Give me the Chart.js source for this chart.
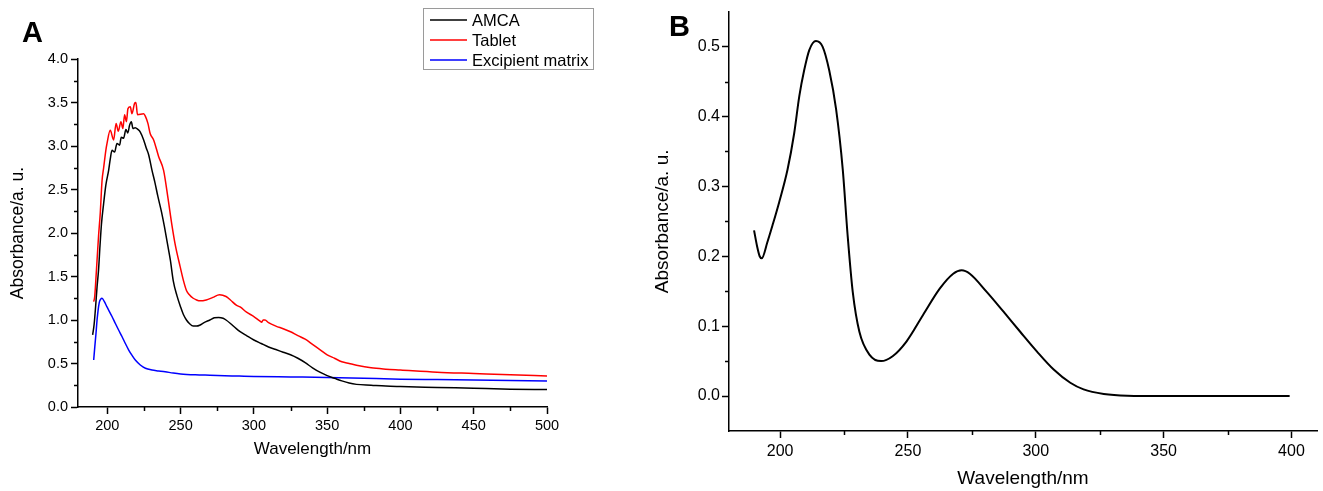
<!DOCTYPE html>
<html>
<head>
<meta charset="utf-8">
<title>UV spectra – AMCA</title>
<script src="https://cdn.jsdelivr.net/npm/chart.js@4.4.1/dist/chart.umd.min.js"></script>
<style>
  html, body { margin: 0; padding: 0; background: #fff; }
  #wrap { position: relative; width: 1323px; height: 491px; }
  #chartA { position: absolute; left: 0; top: 0; }
  #chartB { position: absolute; left: 640px; top: 0; }
</style>
</head>
<body>
<div id="wrap">
  <canvas id="chartA" width="640" height="491"></canvas>
  <canvas id="chartB" width="683" height="491"></canvas>
</div>
<script>
// ---------- panel A : AMCA, tablet, excipient matrix ----------
const SERIES_A = ['AMCA', 'Tablet', 'Excipient matrix'];
const COLORS_A = ['#000000', '#ff0000', '#0000ff'];

const AMCA_NM = [190, 191, 192, 193, 194, 195, 196, 197.5, 199, 200.9, 202, 203.2, 205, 206.6, 208.4, 209.5, 211.1, 212.7, 214, 215.2,
  216.4, 217.5, 219, 220.9, 222.5, 224.8, 226.5, 228.2, 230.5, 232.5, 234.5, 237, 239, 241, 243, 245, 247.5, 250, 252, 254,
  256, 258.6, 261, 263, 266, 270, 273, 276, 279, 281, 284, 288, 290.6, 295, 300, 305, 310, 315, 320, 325,
  330, 335, 340, 345, 350, 355, 360, 365, 370, 380, 390, 400, 425, 450, 475, 500];
const AMCA_ABS = [0.83, 0.95, 1.15, 1.38, 1.57, 1.85, 2.1, 2.34, 2.55, 2.72, 2.85, 2.95, 2.93, 3.03, 3.01, 3.1, 3.09, 3.19, 3.15, 3.24,
  3.28, 3.2, 3.21, 3.19, 3.16, 3.07, 2.98, 2.9, 2.72, 2.58, 2.42, 2.24, 2.07, 1.88, 1.69, 1.45, 1.28, 1.15, 1.06, 1.0,
  0.96, 0.93, 0.93, 0.94, 0.97, 1.0, 1.025, 1.03, 1.02, 1.0, 0.96, 0.9, 0.866, 0.82, 0.77, 0.73, 0.69, 0.66, 0.63, 0.6,
  0.56, 0.51, 0.45, 0.4, 0.36, 0.33, 0.3, 0.275, 0.26, 0.25, 0.24, 0.235, 0.225, 0.215, 0.205, 0.2];

const TABLET_NM = [190.7, 191.4, 192.5, 194, 195.2, 196.4, 197.5, 199, 199.8, 202, 204.3, 206, 207.5, 209.3, 210.6, 211.8, 213, 214.1, 215.7, 216.8,
  218.6, 219.5, 220.6, 224.8, 226, 227.7, 229.3, 231.6, 235, 238.4, 241.4, 244, 246.4, 249.6, 252, 254, 256, 258.6, 261, 263,
  267.5, 272, 276.6, 281, 284, 288, 290.6, 295, 300, 304, 305.4, 306.3, 307.6, 310, 315, 320, 325, 330, 335, 340,
  345, 350, 355, 360, 365, 370, 380, 390, 400, 425, 450, 475, 500];
const TABLET_ABS = [1.21, 1.27, 1.55, 1.96, 2.23, 2.6, 2.75, 2.95, 3.03, 3.18, 3.07, 3.26, 3.17, 3.28, 3.2, 3.36, 3.28, 3.43, 3.45, 3.37,
  3.49, 3.5, 3.36, 3.37, 3.34, 3.26, 3.14, 3.07, 2.88, 2.72, 2.4, 2.1, 1.86, 1.62, 1.45, 1.34, 1.29, 1.25, 1.23, 1.22,
  1.23, 1.26, 1.29, 1.27, 1.23, 1.17, 1.15, 1.09, 1.04, 0.99, 0.975, 1.0, 1.0, 0.97, 0.93, 0.9, 0.865, 0.82, 0.78, 0.72,
  0.66, 0.6, 0.56, 0.52, 0.5, 0.48, 0.45, 0.435, 0.425, 0.4, 0.385, 0.37, 0.356];

const EXCIP_NM = [190.7, 191.5, 192.3, 193, 194.5, 195.5, 196.4, 198, 199.8, 203.2, 205.5, 207.7, 210, 212.3, 214.6, 217, 219.1, 222.5, 226, 230.5,
  235, 239.5, 245, 250, 260, 270, 280, 290, 300, 325, 350, 375, 400, 425, 450, 475, 500];
const EXCIP_ABS = [0.54, 0.7, 0.85, 1.0, 1.2, 1.24, 1.25, 1.21, 1.15, 1.04, 0.96, 0.885, 0.81, 0.73, 0.655, 0.59, 0.54, 0.483, 0.445, 0.425,
  0.415, 0.405, 0.39, 0.38, 0.37, 0.365, 0.36, 0.355, 0.35, 0.345, 0.34, 0.33, 0.32, 0.315, 0.31, 0.305, 0.3];

const A_X_TICKS = [200, 250, 300, 350, 400, 450, 500];
const A_X_MINOR = [225, 275, 325, 375, 425, 475];
const A_Y_TICKS = [0, 0.5, 1, 1.5, 2, 2.5, 3, 3.5, 4];
const A_Y_MINOR = [0.25, 0.75, 1.25, 1.75, 2.25, 2.75, 3.25, 3.75];

// ---------- panel B : AMCA standard ----------
const B_NM = [189.8, 191, 192, 192.8, 195, 197, 199.6, 202.9, 205.5, 207.5, 209.4, 211.4, 214, 216.6, 219.2, 221.9, 224.5, 226.4, 228.4, 231,
  235, 239.5, 244, 249.4, 255.9, 262.5, 267.7, 271, 274.2, 280.8, 287.3, 293.9, 300.4, 307, 313.5, 318.7, 326.6, 335.8, 350, 375, 399.3];
const B_ABS = [0.237, 0.214, 0.2, 0.197, 0.22, 0.244, 0.277, 0.324, 0.376, 0.429, 0.466, 0.495, 0.508, 0.5, 0.466, 0.41, 0.324, 0.23, 0.149, 0.092,
  0.059, 0.05, 0.057, 0.078, 0.116, 0.154, 0.175, 0.18, 0.175, 0.149, 0.121, 0.092, 0.064, 0.038, 0.019, 0.0095, 0.003, 0.0005, 0, 0, 0];

const B_X_TICKS = [200, 250, 300, 350, 400];
const B_X_MINOR = [225, 275, 325, 375];
const B_Y_TICKS = [0, 0.1, 0.2, 0.3, 0.4, 0.5];
const B_Y_MINOR = [0.05, 0.15, 0.25, 0.35, 0.45];

const FONT = '"Liberation Sans", Arial, Helvetica, sans-serif';

function pts(xs, ys) {
  return xs.map((x, i) => ({ x: x, y: ys[i] }));
}

// short outward minor ticks, placed with the chart's own scales
const minorTicks = {
  id: 'minorTicks',
  afterDraw(chart, args, opts) {
    const { ctx, chartArea, scales } = chart;
    ctx.save();
    ctx.strokeStyle = '#000';
    ctx.lineWidth = 1.5;
    ctx.beginPath();
    (opts.x || []).forEach(v => {
      const px = Math.round(scales.x.getPixelForValue(v)) + 0.5;
      ctx.moveTo(px, chartArea.bottom);
      ctx.lineTo(px, chartArea.bottom + opts.len);
    });
    (opts.y || []).forEach(v => {
      const py = Math.round(scales.y.getPixelForValue(v)) + 0.5;
      ctx.moveTo(chartArea.left, py);
      ctx.lineTo(chartArea.left - opts.len, py);
    });
    ctx.stroke();
    ctx.restore();
  }
};

// bold panel letter
const panelLabel = {
  id: 'panelLabel',
  afterDraw(chart, args, opts) {
    if (!opts.text) return;
    const ctx = chart.ctx;
    ctx.save();
    ctx.font = 'bold ' + opts.size + 'px ' + FONT;
    ctx.fillStyle = '#000';
    ctx.textBaseline = 'alphabetic';
    ctx.fillText(opts.text, opts.x, opts.y);
    ctx.restore();
  }
};

// boxed legend like the Origin one, built from the datasets
const boxLegend = {
  id: 'boxLegend',
  afterDraw(chart, args, opts) {
    if (!opts.display) return;
    const ctx = chart.ctx;
    const sets = chart.data.datasets;
    ctx.save();
    ctx.strokeStyle = '#9a9a9a';
    ctx.lineWidth = 1;
    ctx.strokeRect(opts.x + 0.5, opts.y + 0.5, opts.w, opts.h);
    ctx.font = opts.size + 'px ' + FONT;
    ctx.textBaseline = 'middle';
    sets.forEach((ds, i) => {
      const cy = opts.y + 12 + i * 20;
      ctx.strokeStyle = ds.borderColor;
      ctx.lineWidth = 1.5;
      ctx.beginPath();
      ctx.moveTo(opts.x + 7, cy);
      ctx.lineTo(opts.x + 44, cy);
      ctx.stroke();
      ctx.fillStyle = '#000';
      ctx.fillText(ds.label, opts.x + 49, cy + 1);
    });
    ctx.restore();
  }
};

function makeAxis(cfg) {
  return {
    type: 'linear',
    min: cfg.min,
    max: cfg.max,
    afterBuildTicks: s => { s.ticks = cfg.ticks.map(v => ({ value: v })); },
    afterFit: s => { if (cfg.width) s.width = cfg.width; if (cfg.height) s.height = cfg.height; },
    grid: { drawOnChartArea: false, drawTicks: true, tickLength: 7, tickColor: '#000', tickWidth: 1.5 },
    border: { display: true, color: '#000', width: 1.5 },
    ticks: {
      color: '#000',
      padding: cfg.pad,
      maxRotation: 0,
      autoSkip: false,
      font: { family: FONT, size: cfg.tickSize },
      callback: cfg.fmt
    },
    title: {
      display: true,
      text: cfg.title,
      color: '#000',
      font: { family: FONT, size: cfg.titleSize },
      padding: cfg.titlePad
    }
  };
}

Chart.defaults.font.family = FONT;

new Chart(document.getElementById('chartA'), {
  type: 'line',
  data: {
    datasets: [
      { label: SERIES_A[0], data: pts(AMCA_NM, AMCA_ABS), borderColor: COLORS_A[0] },
      { label: SERIES_A[1], data: pts(TABLET_NM, TABLET_ABS), borderColor: COLORS_A[1] },
      { label: SERIES_A[2], data: pts(EXCIP_NM, EXCIP_ABS), borderColor: COLORS_A[2] }
    ].map(d => Object.assign(d, { borderWidth: 1.5, pointRadius: 0, fill: false, cubicInterpolationMode: 'monotone' }))
  },
  options: {
    responsive: false,
    animation: false,
    devicePixelRatio: 1,
    layout: { padding: { left: 0, top: 59, right: 93, bottom: 31 } },
    scales: {
      x: makeAxis({ min: 180, max: 500, ticks: A_X_TICKS, fmt: v => String(v), pad: 3, tickSize: 14.5,
        title: 'Wavelength/nm', titleSize: 17, titlePad: { top: 0, bottom: 0 }, height: 53 }),
      y: makeAxis({ min: 0, max: 4, ticks: A_Y_TICKS, fmt: v => v.toFixed(1), pad: 3, tickSize: 14.5,
        title: 'Absorbance/a. u.', titleSize: 17.5, titlePad: { top: 8, bottom: 0 }, width: 78 })
    },
    plugins: {
      legend: { display: false },
      tooltip: { enabled: false },
      minorTicks: { x: A_X_MINOR, y: A_Y_MINOR, len: 4 },
      panelLabel: { text: 'A', x: 22, y: 42, size: 29 },
      boxLegend: { display: true, x: 423, y: 8, w: 170, h: 61, size: 16.5 }
    }
  },
  plugins: [minorTicks, panelLabel, boxLegend]
});

new Chart(document.getElementById('chartB'), {
  type: 'line',
  data: {
    datasets: [{
      label: 'AMCA',
      data: pts(B_NM, B_ABS),
      borderColor: '#000',
      borderWidth: 2,
      pointRadius: 0,
      fill: false,
      cubicInterpolationMode: 'monotone'
    }]
  },
  options: {
    responsive: false,
    animation: false,
    devicePixelRatio: 1,
    layout: { padding: { left: 0, top: 7, right: 6, bottom: 1 } },
    scales: {
      x: makeAxis({ min: 180, max: 410, ticks: B_X_TICKS, fmt: v => String(v), pad: 4, tickSize: 16,
        title: 'Wavelength/nm', titleSize: 19, titlePad: { top: 0, bottom: 0 }, height: 59 }),
      y: makeAxis({ min: -0.05, max: 0.55, ticks: B_Y_TICKS, fmt: v => v.toFixed(1), pad: 2, tickSize: 16,
        title: 'Absorbance/a. u.', titleSize: 19, titlePad: { top: 11, bottom: 0 }, width: 89 })
    },
    plugins: {
      legend: { display: false },
      tooltip: { enabled: false },
      minorTicks: { x: B_X_MINOR, y: B_Y_MINOR, len: 4 },
      panelLabel: { text: 'B', x: 29, y: 36, size: 29 },
      boxLegend: { display: false }
    }
  },
  plugins: [minorTicks, panelLabel, boxLegend]
});
</script>
</body>
</html>
